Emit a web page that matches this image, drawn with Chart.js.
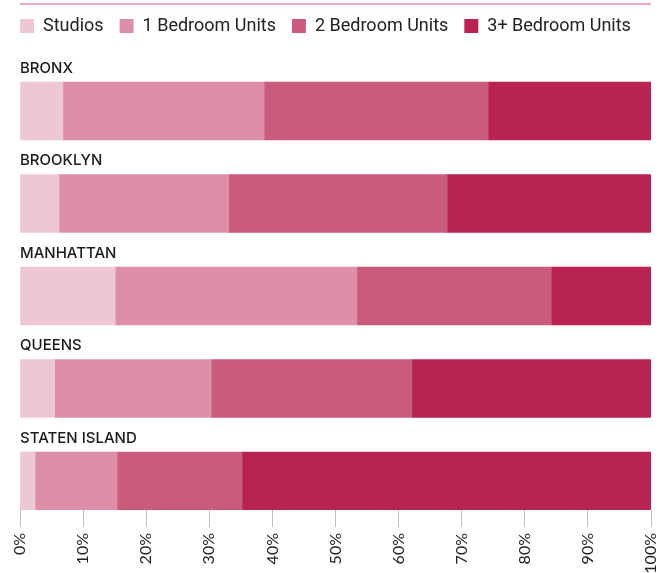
<!DOCTYPE html>
<html>
<head>
<meta charset="utf-8">
<script src="https://cdn.jsdelivr.net/npm/chart.js@4/dist/chart.umd.min.js"></script>
<style>
  html, body { margin: 0; padding: 0; background: #fff; }
  #wrap { width: 665px; height: 573px; position: relative; }
</style>
</head>
<body>
<div id="wrap"><canvas id="c"></canvas></div>
<script>
// ---- data ----
const boroughs = ["BRONX", "BROOKLYN", "MANHATTAN", "QUEENS", "STATEN ISLAND"];
const seriesNames = ["Studios", "1 Bedroom Units", "2 Bedroom Units", "3+ Bedroom Units"];
const studios   = [6.8, 6.2, 15.1, 5.5, 2.4];
const oneBed    = [31.9, 26.9, 38.3, 24.8, 13.0];
const twoBed    = [35.5, 34.6, 30.8, 31.8, 19.8];
const threePlus = [25.8, 32.3, 15.8, 37.9, 64.8];
const xTicks    = [0, 10, 20, 30, 40, 50, 60, 70, 80, 90, 100];

const colors = ["#eec7d4", "#dc8fa6", "#c95b7c", "#b92352"];
const seriesValues = [studios, oneBed, twoBed, threePlus];

const indexes = boroughs.map((_, i) => i);

const decor = {
  id: 'decor',
  beforeDraw(chart) {
    const ctx = chart.ctx, a = chart.chartArea;
    ctx.save();
    ctx.fillStyle = '#e8a5bd';
    ctx.fillRect(a.left, 3, a.right - a.left, 2);
    ctx.restore();
  },
  afterDatasetsDraw(chart) {
    const ctx = chart.ctx, a = chart.chartArea;
    const meta = chart.getDatasetMeta(0);
    ctx.save();
    ctx.fillStyle = '#1a1a1a';
    ctx.font = '500 15px Inter, "Noto Sans", sans-serif';
    ctx.textAlign = 'left';
    ctx.textBaseline = 'alphabetic';
    meta.data.forEach((el, i) => {
      const top = el.y - el.height / 2;
      ctx.fillText(boroughs[i], a.left, top - 9.5);
    });
    ctx.restore();
  }
};

new Chart(document.getElementById('c'), {
  type: 'bar',
  data: {
    labels: indexes,
    datasets: seriesNames.map((name, k) => ({
      label: name,
      data: seriesValues[k],
      backgroundColor: colors[k],
      borderWidth: 0,
      barThickness: 58
    }))
  },
  options: {
    indexAxis: 'y',
    responsive: true,
    maintainAspectRatio: false,
    animation: false,
    layout: { padding: { left: 4, top: 1, right: 0, bottom: 0 } },
    plugins: {
      tooltip: { enabled: false },
      legend: {
        position: 'top',
        align: 'start',
        labels: {
          boxWidth: 14,
          boxHeight: 14,
          padding: 16,
          color: '#222',
          font: { family: 'Roboto, "Noto Sans", sans-serif', size: 18 }
        }
      }
    },
    scales: {
      x: {
        type: 'linear',
        stacked: true,
        min: 0,
        max: 100,
        afterBuildTicks(s) { s.ticks = xTicks.map(v => ({ value: v })); },
        ticks: {
          callback: v => v + '%',
          minRotation: 90,
          maxRotation: 90,
          padding: 6,
          color: '#222',
          autoSkip: false,
          font: { family: 'Lato, "Open Sans", sans-serif', size: 16 }
        },
        grid: {
          drawOnChartArea: false,
          drawTicks: true,
          tickLength: 17,
          color: '#bdbdbd',
          lineWidth: 1
        },
        border: { display: false },
        afterFit(s) {
          s.height = 63;
          s.paddingLeft = 0;
          s.paddingRight = 14;
        }
      },
      y: {
        type: 'linear',
        stacked: true,
        reverse: true,
        offset: false,
        min: -0.714,
        max: 4.3135,
        ticks: { display: false },
        grid: { display: false, offset: false },
        border: { display: false },
        afterFit(s) { s.width = 16; }
      }
    }
  },
  plugins: [decor]
});
</script>
</body>
</html>
